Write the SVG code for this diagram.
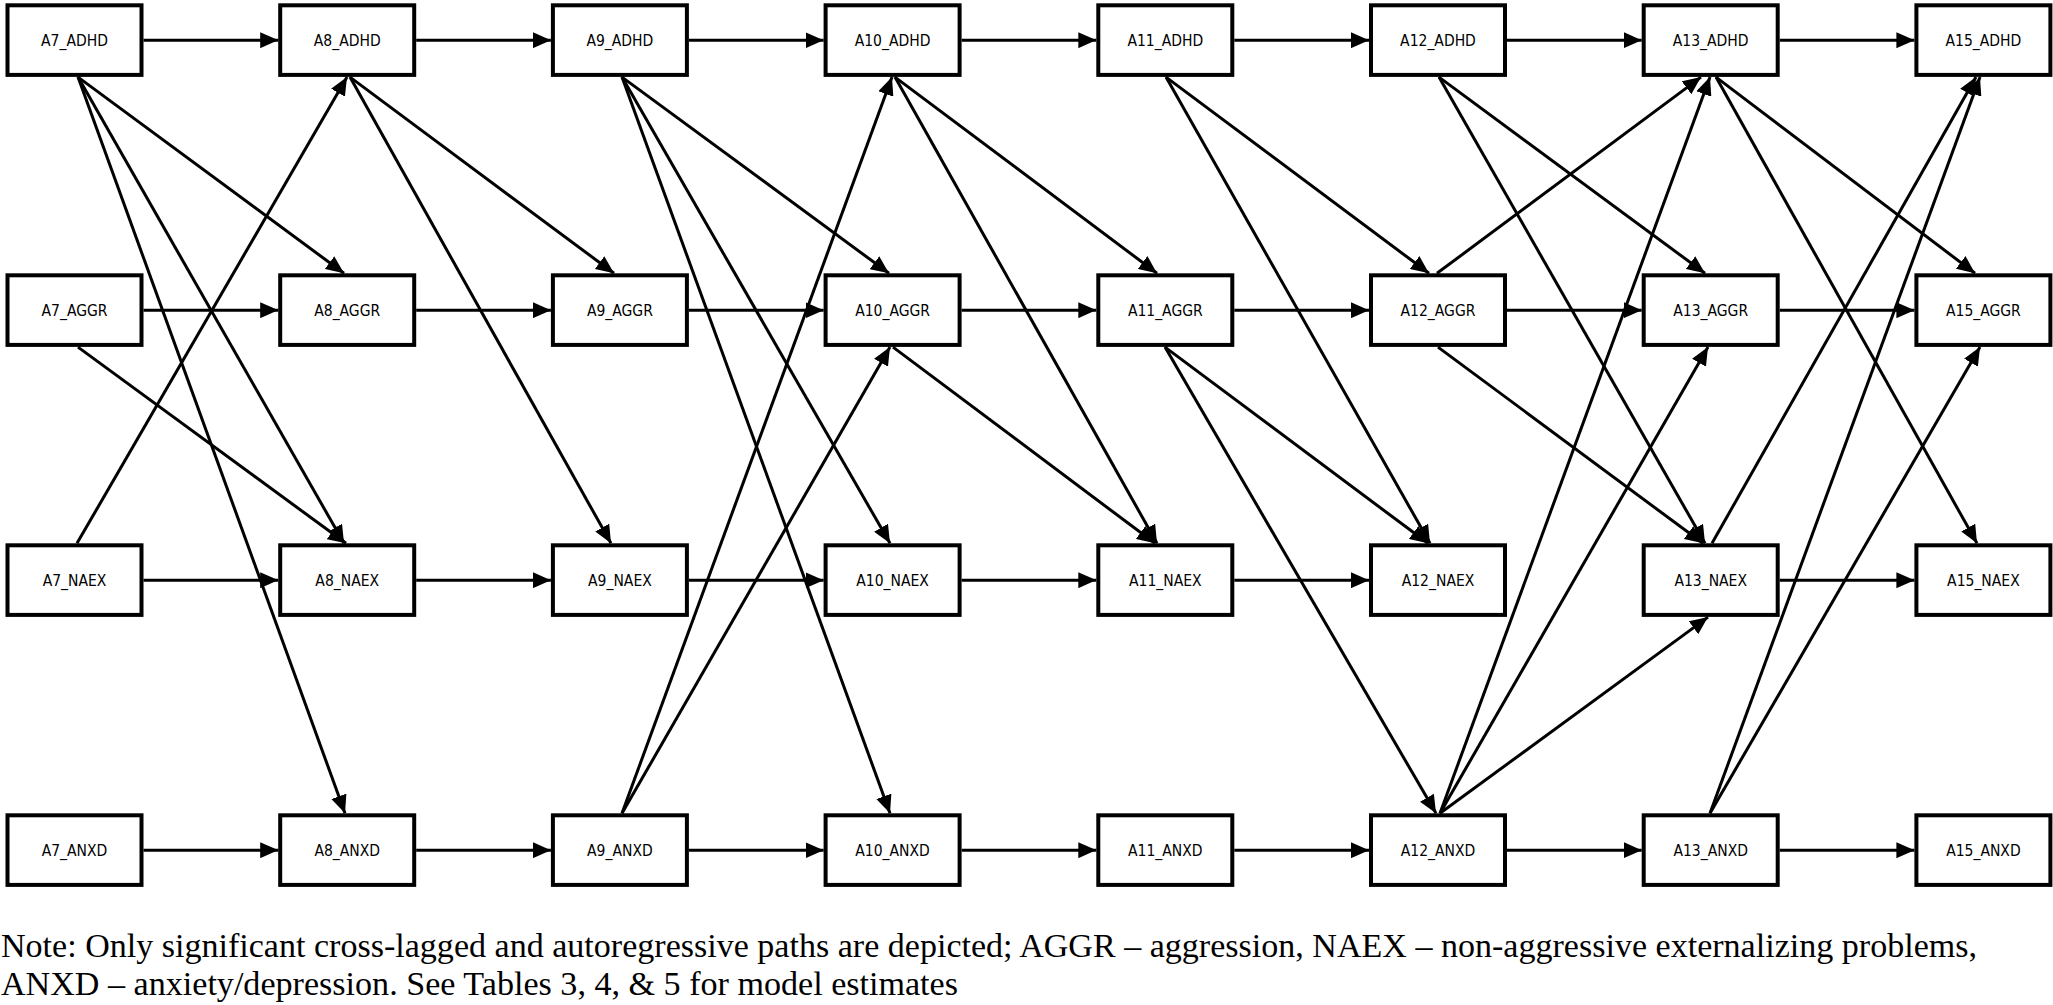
<svg xmlns="http://www.w3.org/2000/svg" width="2053" height="1005" viewBox="0 0 2053 1005">
<style>
.box rect{fill:#fff;stroke:#000;stroke-width:4}
.box text{font-family:"DejaVu Sans Condensed","DejaVu Sans",sans-serif;font-stretch:condensed;font-size:15.5px;text-anchor:middle;fill:#000}
.edges path{fill:none;stroke:#000;stroke-width:3;marker-end:url(#ah)}
.note{font-family:"Liberation Serif","Times New Roman",serif;font-size:34px;fill:#000}
</style>
<defs>
<marker id="ah" markerUnits="userSpaceOnUse" markerWidth="18" markerHeight="16" refX="18" refY="8" orient="auto" viewBox="0 0 18 16">
<path d="M0,0 L18,8 L0,16 z" fill="#000"/>
</marker>
</defs>
<rect width="2053" height="1005" fill="#fff"/>
<g class="edges">
<!-- autoregressive ADHD -->
<path d="M143.5,40.2H278.2"/><path d="M416.2,40.2H550.9"/><path d="M688.9,40.2H823.6"/><path d="M961.6,40.2H1096.3"/><path d="M1234.3,40.2H1369"/><path d="M1507,40.2H1641.7"/><path d="M1779.7,40.2H1914.4"/>
<!-- AGGR -->
<path d="M143.5,310.2H278.2"/><path d="M416.2,310.2H550.9"/><path d="M688.9,310.2H823.6"/><path d="M961.6,310.2H1096.3"/><path d="M1234.3,310.2H1369"/><path d="M1507,310.2H1641.7"/><path d="M1779.7,310.2H1914.4"/>
<!-- NAEX -->
<path d="M143.5,580.2H278.2"/><path d="M416.2,580.2H550.9"/><path d="M688.9,580.2H823.6"/><path d="M961.6,580.2H1096.3"/><path d="M1234.3,580.2H1369"/><path d="M1779.7,580.2H1914.4"/>
<!-- ANXD -->
<path d="M143.5,850.2H278.2"/><path d="M416.2,850.2H550.9"/><path d="M688.9,850.2H823.6"/><path d="M961.6,850.2H1096.3"/><path d="M1234.3,850.2H1369"/><path d="M1507,850.2H1641.7"/><path d="M1779.7,850.2H1914.4"/>
<!-- cross-lagged -->
<path d="M78,77.1L344,273.3"/>
<path d="M78,77.1L344,543.3"/>
<path d="M78,77.1L345,813.3"/>
<path d="M78,347.1L346,543.3"/>
<path d="M77,543.3L347,77.1"/>
<path d="M350,77.1L614,273.3"/>
<path d="M350,77.1L611,543.3"/>
<path d="M622,77.1L889,273.3"/>
<path d="M622,77.1L890,543.3"/>
<path d="M622,77.1L890,813.3"/>
<path d="M622,813.3L892,77.1"/>
<path d="M622,813.3L890,347.1"/>
<path d="M895,77.1L1157,273.3"/>
<path d="M895,77.1L1157,543.3"/>
<path d="M893,347.1L1155,543.3"/>
<path d="M1166,77.1L1429,273.3"/>
<path d="M1166,77.1L1430,543.3"/>
<path d="M1165,347.1L1428,543.3"/>
<path d="M1165,347.1L1436,813.3"/>
<path d="M1439,77.1L1705,273.3"/>
<path d="M1439,77.1L1705,543.3"/>
<path d="M1437,273.3L1701,77.1"/>
<path d="M1438,347.1L1703,543.3"/>
<path d="M1440,813.3L1710,77.1"/>
<path d="M1440,813.3L1708,347.1"/>
<path d="M1440,813.3L1708,617.1"/>
<path d="M1716,77.1L1975,273.3"/>
<path d="M1716,77.1L1977,543.3"/>
<path d="M1712,543.3L1976,77.1"/>
<path d="M1710,813.3L1980,77.1"/>
<path d="M1710,813.3L1980,347.1"/>
</g>
<g id="A7_ADHD" class="box"><rect x="7.5" y="5.3" width="134" height="69.6"/><text x="74.5" y="45.7">A7_ADHD</text></g>
<g id="A8_ADHD" class="box"><rect x="280.2" y="5.3" width="134" height="69.6"/><text x="347.2" y="45.7">A8_ADHD</text></g>
<g id="A9_ADHD" class="box"><rect x="552.9" y="5.3" width="134" height="69.6"/><text x="619.9" y="45.7">A9_ADHD</text></g>
<g id="A10_ADHD" class="box"><rect x="825.6" y="5.3" width="134" height="69.6"/><text x="892.6" y="45.7">A10_ADHD</text></g>
<g id="A11_ADHD" class="box"><rect x="1098.3" y="5.3" width="134" height="69.6"/><text x="1165.3" y="45.7">A11_ADHD</text></g>
<g id="A12_ADHD" class="box"><rect x="1371" y="5.3" width="134" height="69.6"/><text x="1438" y="45.7">A12_ADHD</text></g>
<g id="A13_ADHD" class="box"><rect x="1643.7" y="5.3" width="134" height="69.6"/><text x="1710.7" y="45.7">A13_ADHD</text></g>
<g id="A15_ADHD" class="box"><rect x="1916.4" y="5.3" width="134" height="69.6"/><text x="1983.4" y="45.7">A15_ADHD</text></g>

<g id="A7_AGGR" class="box"><rect x="7.5" y="275.3" width="134" height="69.6"/><text x="74.5" y="315.7">A7_AGGR</text></g>
<g id="A8_AGGR" class="box"><rect x="280.2" y="275.3" width="134" height="69.6"/><text x="347.2" y="315.7">A8_AGGR</text></g>
<g id="A9_AGGR" class="box"><rect x="552.9" y="275.3" width="134" height="69.6"/><text x="619.9" y="315.7">A9_AGGR</text></g>
<g id="A10_AGGR" class="box"><rect x="825.6" y="275.3" width="134" height="69.6"/><text x="892.6" y="315.7">A10_AGGR</text></g>
<g id="A11_AGGR" class="box"><rect x="1098.3" y="275.3" width="134" height="69.6"/><text x="1165.3" y="315.7">A11_AGGR</text></g>
<g id="A12_AGGR" class="box"><rect x="1371" y="275.3" width="134" height="69.6"/><text x="1438" y="315.7">A12_AGGR</text></g>
<g id="A13_AGGR" class="box"><rect x="1643.7" y="275.3" width="134" height="69.6"/><text x="1710.7" y="315.7">A13_AGGR</text></g>
<g id="A15_AGGR" class="box"><rect x="1916.4" y="275.3" width="134" height="69.6"/><text x="1983.4" y="315.7">A15_AGGR</text></g>

<g id="A7_NAEX" class="box"><rect x="7.5" y="545.3" width="134" height="69.6"/><text x="74.5" y="585.7">A7_NAEX</text></g>
<g id="A8_NAEX" class="box"><rect x="280.2" y="545.3" width="134" height="69.6"/><text x="347.2" y="585.7">A8_NAEX</text></g>
<g id="A9_NAEX" class="box"><rect x="552.9" y="545.3" width="134" height="69.6"/><text x="619.9" y="585.7">A9_NAEX</text></g>
<g id="A10_NAEX" class="box"><rect x="825.6" y="545.3" width="134" height="69.6"/><text x="892.6" y="585.7">A10_NAEX</text></g>
<g id="A11_NAEX" class="box"><rect x="1098.3" y="545.3" width="134" height="69.6"/><text x="1165.3" y="585.7">A11_NAEX</text></g>
<g id="A12_NAEX" class="box"><rect x="1371" y="545.3" width="134" height="69.6"/><text x="1438" y="585.7">A12_NAEX</text></g>
<g id="A13_NAEX" class="box"><rect x="1643.7" y="545.3" width="134" height="69.6"/><text x="1710.7" y="585.7">A13_NAEX</text></g>
<g id="A15_NAEX" class="box"><rect x="1916.4" y="545.3" width="134" height="69.6"/><text x="1983.4" y="585.7">A15_NAEX</text></g>

<g id="A7_ANXD" class="box"><rect x="7.5" y="815.3" width="134" height="69.6"/><text x="74.5" y="855.7">A7_ANXD</text></g>
<g id="A8_ANXD" class="box"><rect x="280.2" y="815.3" width="134" height="69.6"/><text x="347.2" y="855.7">A8_ANXD</text></g>
<g id="A9_ANXD" class="box"><rect x="552.9" y="815.3" width="134" height="69.6"/><text x="619.9" y="855.7">A9_ANXD</text></g>
<g id="A10_ANXD" class="box"><rect x="825.6" y="815.3" width="134" height="69.6"/><text x="892.6" y="855.7">A10_ANXD</text></g>
<g id="A11_ANXD" class="box"><rect x="1098.3" y="815.3" width="134" height="69.6"/><text x="1165.3" y="855.7">A11_ANXD</text></g>
<g id="A12_ANXD" class="box"><rect x="1371" y="815.3" width="134" height="69.6"/><text x="1438" y="855.7">A12_ANXD</text></g>
<g id="A13_ANXD" class="box"><rect x="1643.7" y="815.3" width="134" height="69.6"/><text x="1710.7" y="855.7">A13_ANXD</text></g>
<g id="A15_ANXD" class="box"><rect x="1916.4" y="815.3" width="134" height="69.6"/><text x="1983.4" y="855.7">A15_ANXD</text></g>

<text class="note" x="1" y="957" textLength="1976" lengthAdjust="spacingAndGlyphs">Note: Only significant cross-lagged and autoregressive paths are depicted; AGGR – aggression, NAEX – non-aggressive externalizing problems,</text>
<text class="note" x="1" y="995" textLength="957" lengthAdjust="spacingAndGlyphs">ANXD – anxiety/depression. See Tables 3, 4, &amp; 5 for model estimates</text>
</svg>
